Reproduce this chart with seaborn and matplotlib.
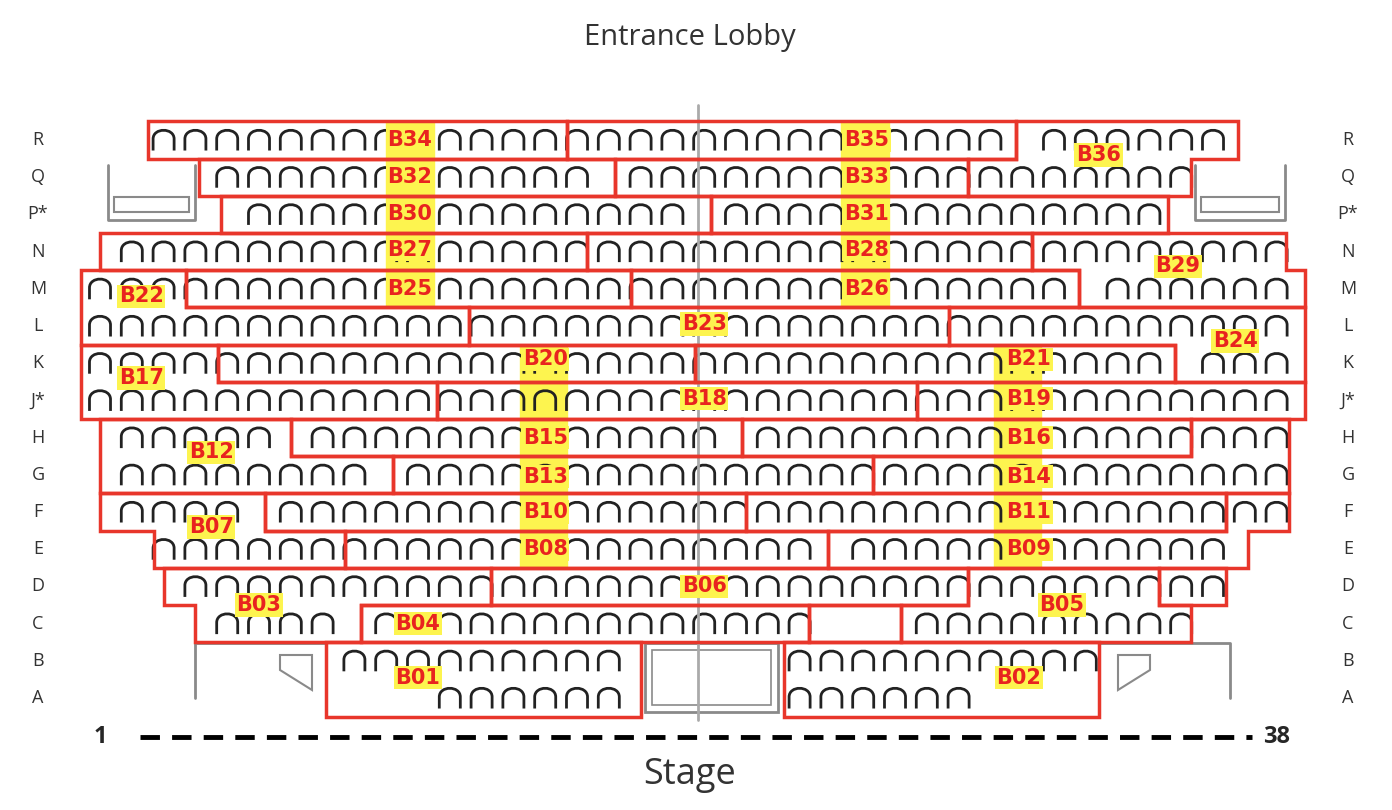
import numpy as np
import pandas as pd
import matplotlib
matplotlib.use("Agg")
import matplotlib.pyplot as plt
from matplotlib.path import Path
from matplotlib.patches import Polygon, Rectangle
import seaborn as sns

rows = ['A', 'B', 'C', 'D', 'E', 'F', 'G', 'H', 'J*', 'K', 'L', 'M', 'N', 'P*', 'Q', 'R']
R = {r: i for i, r in enumerate(rows)}

# blocks: name -> list of (row, seat span start, seat span end)
blocks = {
    'B34': [('R', 2.5, 15.7)],
    'B35': [('R', 15.7, 29.8)],
    'B36': [('R', 29.8, 36.8), ('Q', 28.3, 35.3)],
    'B32': [('Q', 4.1, 17.2)],
    'B33': [('Q', 17.2, 28.3)],
    'B30': [('P*', 4.8, 20.2)],
    'B31': [('P*', 20.2, 34.6)],
    'B27': [('N', 1.0, 16.3)],
    'B28': [('N', 16.3, 30.3)],
    'B29': [('N', 30.3, 38.3), ('M', 31.8, 38.9)],
    'B22': [('M', 0.4, 3.7), ('L', 0.4, 12.6)],
    'B25': [('M', 3.7, 17.7)],
    'B26': [('M', 17.7, 31.8)],
    'B23': [('L', 12.6, 27.7)],
    'B24': [('L', 27.7, 38.9), ('K', 34.8, 38.9)],
    'B17': [('K', 0.4, 4.7), ('J*', 0.4, 11.6)],
    'B20': [('K', 4.7, 19.7)],
    'B21': [('K', 19.7, 34.8)],
    'B18': [('J*', 11.6, 26.7)],
    'B19': [('J*', 26.7, 38.9)],
    'B12': [('H', 1.0, 7.0), ('G', 1.0, 10.2)],
    'B15': [('H', 7.0, 21.2)],
    'B16': [('H', 21.2, 35.3)],
    'B14': [('H', 35.3, 38.4), ('G', 25.3, 38.4)],
    'B13': [('G', 10.2, 25.3)],
    'B07': [('F', 1.0, 6.2), ('E', 2.7, 8.7)],
    'B10': [('F', 6.2, 21.3)],
    'B11': [('F', 21.3, 36.4)],
    'B09': [('F', 36.4, 38.4), ('E', 23.9, 37.1)],
    'B08': [('E', 8.7, 23.9)],
    'B03': [('D', 3.0, 13.3), ('C', 4.0, 9.2)],
    'B06': [('D', 13.3, 28.3)],
    'B05': [('D', 28.3, 34.3), ('C', 26.2, 35.3)],
    'X1':  [('D', 34.3, 36.4)],
    'X2':  [('C', 23.3, 26.2)],
    'B04': [('C', 9.2, 23.3)],
    'B01': [('B', 8.1, 18.0), ('A', 8.1, 18.0)],
    'B02': [('B', 22.5, 32.4), ('A', 22.5, 32.4)],
}
empty_strips = {'X2'}
row_a_seats = list(range(12, 18)) + list(range(23, 29))

# label positions (seat units, row units)
labels = {
    'B34': (10.75, 15.0), 'B35': (25.1, 15.0), 'B36': (32.4, 14.6),
    'B32': (10.75, 14.0), 'B33': (25.1, 14.0), 'B30': (10.75, 13.0), 'B31': (25.1, 13.0),
    'B27': (10.75, 12.05), 'B28': (25.1, 12.05), 'B29': (34.9, 11.6),
    'B22': (2.3, 10.8), 'B25': (10.75, 11.0), 'B26': (25.1, 11.0),
    'B23': (20.0, 10.05), 'B24': (36.7, 9.6), 'B17': (2.3, 8.6),
    'B20': (15.0, 9.1), 'B21': (30.2, 9.1), 'B18': (20.0, 8.05), 'B19': (30.2, 8.05),
    'B12': (4.5, 6.6), 'B15': (15.0, 7.0), 'B16': (30.2, 7.0),
    'B13': (15.0, 5.95), 'B14': (30.2, 5.95), 'B07': (4.5, 4.6),
    'B10': (15.0, 5.0), 'B11': (30.2, 5.0), 'B08': (15.0, 4.0), 'B09': (30.2, 4.0),
    'B06': (20.0, 3.0), 'B03': (6.0, 2.5), 'B04': (11.0, 2.0), 'B05': (31.25, 2.5),
    'B01': (11.0, 0.55), 'B02': (29.9, 0.55),
}
# yellow column highlights: (seat start, seat end, row low, row high)
highlights = [(10.0, 11.5, 10.5, 15.5), (24.3, 25.8, 10.5, 15.5),
              (14.2, 15.7, 3.5, 9.5), (29.1, 30.6, 3.5, 9.5)]

# seats
recs = []
for name, strips in blocks.items():
    if name in empty_strips:
        continue
    for row, a, b in strips:
        if row == 'A':
            ks = [k for k in row_a_seats if a < k < b]
        else:
            ks = [k for k in range(0, 40) if a + 0.3 <= k <= b - 0.3]
        for k in ks:
            recs.append((k, R[row]))
seats = pd.DataFrame(recs, columns=['seat', 'row']).drop_duplicates()

arch = Path([(-1, -1), (-1, 0.1), (-1, 1.2), (1, 1.2), (1, 0.1), (1, -1)],
            [Path.MOVETO, Path.LINETO, Path.CURVE4, Path.CURVE4, Path.CURVE4, Path.LINETO])

sns.set_theme(style='white')
plt.rcParams['font.family'] = ['Open Sans', 'DejaVu Sans']
fig = plt.figure(figsize=(13.92, 8.1), dpi=100)
ax = fig.add_axes([0, 0, 1, 1])
px = lambda x: 1 + (x - 100) / 31.8
py = lambda y: (698 - y) / 37.2
ax.set_xlim(px(0), px(1392))
ax.set_ylim(py(810), py(0))
ax.axis('off')

for a, b, lo, hi in highlights:
    ax.add_patch(Rectangle((a, lo), b - a, hi - lo, color='#fdf44f', zorder=1))

sns.scatterplot(data=seats, x='seat', y='row', marker=arch, s=330, facecolors='none',
                edgecolor='#222222', linewidth=2.0, ax=ax, zorder=2, legend=False)

for name, strips in blocks.items():
    st = sorted(strips, key=lambda s: -R[s[0]])
    pts = []
    for row, a, b in st:
        pts += [(b, R[row] + 0.5), (b, R[row] - 0.5)]
    for row, a, b in reversed(st):
        pts += [(a, R[row] - 0.5), (a, R[row] + 0.5)]
    ax.add_patch(Polygon(pts, closed=True, fill=False, edgecolor='#e8362b', lw=2.5, zorder=4))

for name, (x, y) in labels.items():
    ax.text(x, y, name, ha='center', va='center', color='#e8231f', fontsize=15,
            fontweight='bold', family=['DejaVu Sans'], zorder=6,
            bbox=dict(boxstyle='square,pad=0.08', fc='#fdf44f', ec='none'))

g = '#8a8a8a'
ax.plot([px(698), px(698)], [py(105), py(720)], color='#aaaaaa', lw=2, zorder=3)
# side boxes near P/Q
for x0, x1 in [(108, 195), (1195, 1285)]:
    ax.plot([px(x0), px(x0), px(x1), px(x1)], [py(165), py(220), py(220), py(165)], color=g, lw=2)
    ax.add_patch(Rectangle((px(x0 + 6), py(212)), px(x1 - 6) - px(x0 + 6), py(197) - py(212),
                           fill=False, ec=g, lw=1.5))
# bottom structures
ax.plot([px(195), px(195), px(325)], [py(698), py(643), py(643)], color=g, lw=2)
ax.plot([px(1100), px(1230), px(1230)], [py(643), py(643), py(698)], color=g, lw=2)
ax.add_patch(Polygon([(px(280), py(655)), (px(312), py(655)), (px(312), py(690)), (px(280), py(670))],
                     fill=False, ec=g, lw=1.5))
ax.add_patch(Polygon([(px(1118), py(655)), (px(1150), py(655)), (px(1150), py(670)), (px(1118), py(690))],
                     fill=False, ec=g, lw=1.5))
ax.add_patch(Rectangle((px(645), py(712)), px(778) - px(645), py(643) - py(712), fill=False, ec=g, lw=2))
ax.add_patch(Rectangle((px(652), py(705)), px(771) - px(652), py(650) - py(705), fill=False, ec=g, lw=1.2))

for r in rows:
    ax.text(px(38), R[r], r, ha='center', va='center', fontsize=13, color='#333333')
    ax.text(px(1348), R[r], r, ha='center', va='center', fontsize=13, color='#333333')

ax.plot([px(140), px(1252)], [py(737), py(737)], color='black', lw=3.5, ls=(0, (4, 2.5)))
ax.text(1, py(737), '1', ha='center', va='center', fontsize=17, fontweight='bold')
ax.text(38, py(737), '38', ha='center', va='center', fontsize=17, fontweight='bold')
ax.text(px(690), py(37), 'Entrance Lobby', ha='center', va='center', fontsize=21, color='#333333')
ax.text(px(690), py(775), 'Stage', ha='center', va='center', fontsize=26, color='#333333')

fig.savefig('out.png', dpi=100)
